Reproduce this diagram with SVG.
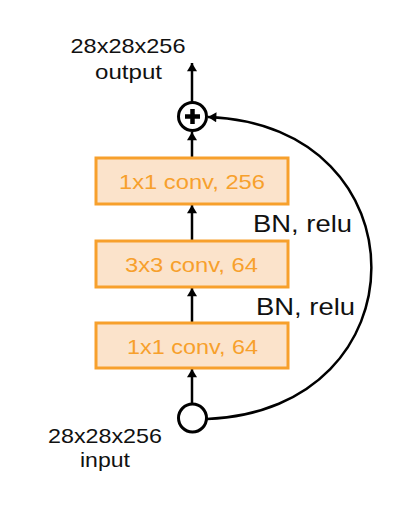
<svg xmlns="http://www.w3.org/2000/svg" width="418" height="510" viewBox="0 0 418 510">
<defs>
<style>
.lbl{font-family:"Liberation Sans",Arial,sans-serif;fill:#111;}
.box{fill:#FBE3CB;stroke:#F7A02C;stroke-width:3;}
.btxt{font-family:"Liberation Sans",Arial,sans-serif;fill:#F7A02C;font-size:21px;text-anchor:middle;}
.edge{stroke:#000;stroke-width:2.5;fill:none;}
.circ{fill:#fff;stroke:#000;stroke-width:3;}
</style>
<marker id="ah" viewBox="0 0 10 12" refX="10" refY="6" markerWidth="12" markerHeight="10" markerUnits="userSpaceOnUse" orient="auto">
<path d="M0,0 L10,6 L0,12 Z" fill="#000"/>
</marker>
</defs>
<rect width="418" height="510" fill="#fff"/>
<g id="connectors">
<line class="edge" x1="192" y1="403" x2="192" y2="369" marker-end="url(#ah)"/>
<line class="edge" x1="192" y1="322" x2="192" y2="288" marker-end="url(#ah)"/>
<line class="edge" x1="192" y1="240" x2="192" y2="205" marker-end="url(#ah)"/>
<line class="edge" x1="192" y1="157" x2="192" y2="132" marker-end="url(#ah)"/>
<line class="edge" x1="192" y1="102" x2="192" y2="63" marker-end="url(#ah)"/>
<path class="edge" d="M207,419 C426,410 426,125 208,117" marker-end="url(#ah)"/>
</g>
<g id="output">
<text class="lbl" x="128" y="53" font-size="21" text-anchor="middle" textLength="115" lengthAdjust="spacingAndGlyphs">28x28x256</text>
<text class="lbl" x="128.5" y="79" font-size="21" text-anchor="middle" textLength="67" lengthAdjust="spacingAndGlyphs">output</text>
</g>
<g id="sum">
<circle class="circ" cx="192.5" cy="116.5" r="14"/>
<line x1="185" y1="116.5" x2="200" y2="116.5" stroke="#000" stroke-width="4.5"/>
<line x1="192.5" y1="109" x2="192.5" y2="124" stroke="#000" stroke-width="4.5"/>
</g>
<g id="conv3">
<rect class="box" x="96" y="158" width="192" height="46"/>
<text class="btxt" x="192" y="189" textLength="146" lengthAdjust="spacingAndGlyphs">1x1 conv, 256</text>
</g>
<g id="conv2">
<rect class="box" x="96" y="241" width="192" height="46"/>
<text class="btxt" x="191.5" y="272" textLength="133" lengthAdjust="spacingAndGlyphs">3x3 conv, 64</text>
</g>
<g id="conv1">
<rect class="box" x="96" y="323" width="192" height="45"/>
<text class="btxt" x="192.5" y="354" textLength="131" lengthAdjust="spacingAndGlyphs">1x1 conv, 64</text>
</g>
<g id="bn2">
<text class="lbl" x="253" y="232" font-size="24" textLength="99" lengthAdjust="spacingAndGlyphs">BN, relu</text>
</g>
<g id="bn1">
<text class="lbl" x="256" y="315" font-size="24" textLength="99" lengthAdjust="spacingAndGlyphs">BN, relu</text>
</g>
<g id="input">
<circle class="circ" cx="192.5" cy="418" r="14"/>
<text class="lbl" x="105" y="443" font-size="21" text-anchor="middle" textLength="114" lengthAdjust="spacingAndGlyphs">28x28x256</text>
<text class="lbl" x="105" y="467" font-size="21" text-anchor="middle" textLength="50" lengthAdjust="spacingAndGlyphs">input</text>
</g>
</svg>
